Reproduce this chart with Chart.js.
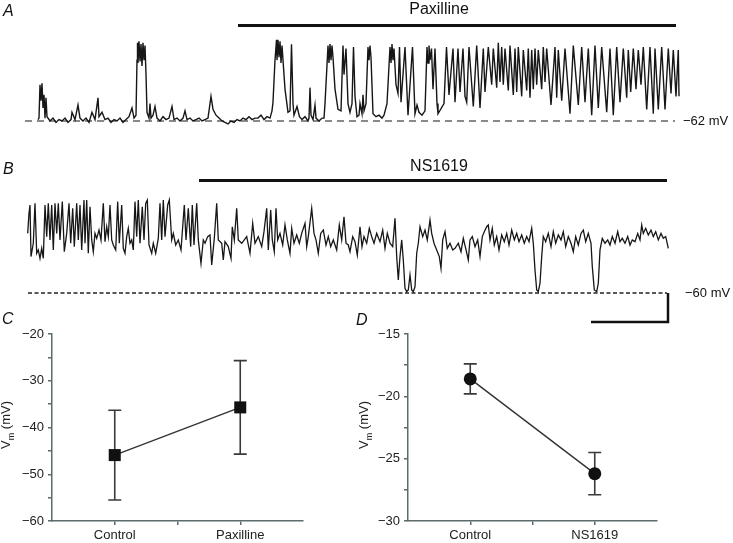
<!DOCTYPE html>
<html>
<head>
<meta charset="utf-8">
<script src="https://cdn.jsdelivr.net/npm/chart.js@4"></script>
<style>
body { margin: 0; background: #fff; width: 733px; height: 543px; overflow: hidden; position: relative; font-family: "Liberation Sans", Arial, sans-serif; }
canvas { position: absolute; }
.panel { position: absolute; font-style: italic; font-size: 16px; line-height: 16px; color: #111; }
.ytitle { position: absolute; font-size: 13px; white-space: nowrap; color: #222; transform: translate(-50%, -50%) rotate(-90deg); }
.ytitle sub { font-size: 9px; }
</style>
</head>
<body>
<canvas id="traceA" width="733" height="130" style="left:0;top:0"></canvas>
<canvas id="traceB" width="733" height="180" style="left:0;top:150px"></canvas>
<canvas id="chartC" width="340" height="228" style="left:0;top:315px"></canvas>
<canvas id="chartD" width="340" height="228" style="left:360px;top:315px"></canvas>
<div class="panel" style="left:3px;top:3px">A</div>
<div class="panel" style="left:3px;top:161px">B</div>
<div class="panel" style="left:2px;top:311px">C</div>
<div class="panel" style="left:356px;top:312px">D</div>
<div class="ytitle" style="left:7px;top:425px">V<sub>m</sub> (mV)</div>
<div class="ytitle" style="left:365px;top:425px">V<sub>m</sub> (mV)</div>
<script>
// membrane potential recordings: [time (s), Vm (mV)]
const traceA = [
  [13,-61],[14,-60],[15,-37],[16,-48],[17,-36],[18,-53],[19,-44],[20,-60],[21,-46],[22,-59],
  [25,-62],[28,-60],[31,-63],[34,-61],[37,-62],[40,-60],[43,-63],[46,-61],[47,-56],[50,-61],[53,-51],[55,-60],
  [58,-62],[61,-60],[64,-63],[67,-56],[70,-61],[73,-46],[74,-59],[77,-56],[80,-61],[83,-60],[86,-63],[89,-61],
  [92,-62],[95,-60],[98,-63],[101,-61],[104,-59],[107,-53],[109,-60],[111,-58],
  [112,-20],[112.5,-8],[113,-22],[114,-7],[115,-21],[116,-9],[117,-24],[118,-8],[119,-20],[120,-10],[121,-30],[122,-56],[124,-60],
  [125,-50],[126,-60],[128,-58],[130,-52],[132,-60],[135,-62],[138,-59],[141,-61],[144,-60],[147,-52],[149,-61],
  [152,-60],[155,-62],[158,-60],[160,-55],[162,-61],[165,-60],[168,-62],[171,-61],[174,-60],[177,-62],[180,-61],
  [183,-60],[186,-45],[188,-54],[191,-58],[194,-60],[197,-62],[200,-63],[203,-64],[206,-62],[209,-63],[212,-61],
  [215,-62],[218,-60],[221,-61],[224,-59],[227,-61],[230,-60],[233,-60],[236,-58],[239,-61],[242,-59],[245,-60],
  [247,-55],[248,-49],[250,-20],[251.5,-6],[252,-20],[253,-6],[254,-18],[255,-7],[256,-22],[257,-10],[258,-20],[260,-40],[263,-56],
  [265,-55],[266.5,-9],[268,-50],[269,-58],[272,-52],[274.5,-59],[277,-61],[280,-59],[283,-62],[284,-60],[285,-39],
  [286,-58],[288,-61],[290,-51],[291,-60],[294,-62],[297,-60],
  [299,-60],[300,-50],[303,-10],[304,-22],[305,-9],[306,-20],[307,-10],[308,-18],[310,-40],[313,-54],
  [316,-55],[318,-10],[319,-30],[321,-12],[323,-50],[325,-56],[327,-50],[328.5,-11],[330,-45],[332,-59],[334,-58],
  [335,-50],[337,-57],[338,-44],[339,-55],
  [341,-50],[343,-11],[344,-20],[345,-10],[346,-18],[348,-57],[351,-59],[354,-58],[357,-60],[359,-58],
  [362,-50],[365,-11],[366,-22],[367,-9],[368,-20],[369,-12],[371,-37],[373,-43],[374.5,-11],[376,-49],[380,-11],
  [383,-58],[387.5,-11],[390,-57],[392,-51],[394,-56],[397,-58],
  [400,-55],[402,-11],[403,-22],[404,-10],[405,-20],[406.5,-12],[408,-40],[410,-12],[412,-50],[413,-57],[419,-50],
  [421.5,-11],[424,-44],[428,-12],[430,-49],[433,-12],[435,-42],[438,-12],[440,-45],[441.7,-49],[444,-11],
  [448.3,-52],[451.7,-10],[455,-53],[458.3,-12],[460,-42],[463.3,-11],[466.7,-37],[468.3,-12],[471.7,-39],[473.3,-8],
  [475,-35],[476.7,-11],[478.3,-37],[480,-12],[483.3,-41],[485,-10],[488.3,-44],[490,-12],[491.7,-42],[493.3,-11],
  [496.7,-45],[498.3,-13],[501.7,-41],[503.3,-12],[505,-46],[506.7,-13],[508.3,-40],[510,-12],[511.7,-37],[513.3,-13],
  [516.7,-40],[518.3,-11],[520,-35],[521.7,-12],[526,-51],[530,-11],[531.7,-46],[533.3,-13],[536.7,-48],[540,-12],
  [545,-57],[548.3,-10],[553.3,-51],[556.7,-11],[560,-49],[563.3,-12],[566.7,-58],[570,-10],[573.3,-53],[576.7,-11],
  [581.7,-56],[585,-12],[588.3,-58],[591.7,-11],[595,-49],[598.3,-12],[601.7,-46],[603.3,-13],[605.7,-42],[608.3,-12],
  [611,-40],[613.3,-13],[616,-37],[618.3,-11],[621.7,-54],[625,-11],[628.3,-57],[630,-12],[633.3,-54],[636.7,-11],
  [640,-54],[643.3,-12],[646,-43],[648.3,-13],[651,-45],[653.3,-13],[654,-45]
];
const traceB = [
  [2.7,-18.9],[4,-5],[5,0.7],[6,-34.9],[8.3,-25.7],[10,1.8],[11.7,-32.6],[13.3,-30.3],[15,-36.1],[16.7,-29.2],
  [18.3,-36.1],[20,0.7],[21.7,-21.1],[23.3,1.8],[25,-23.4],[26.7,0.7],[28.3,-30.3],[30,1.8],[31.7,-18.9],[33.3,1.8],
  [35,-23.4],[37.3,3],[39.3,-31.5],[41.7,-18.9],[44,1.8],[45.7,-25.7],[47.7,-1.6],[49.3,-28],[51.7,1.8],[53.3,-23.4],
  [55,0.7],[56.7,-30.3],[59,4.1],[60,-25.7],[61.7,4.1],[63.3,-32.6],[65,-0.5],[66.7,-23.4],[68.3,-31.5],[70,-18.9],
  [71.7,-22.3],[74,-16.6],[76,-23.4],[78.3,1.8],[80,-24.6],[81.7,-14.3],[83.3,-21.1],[85,0.7],[86.7,-23.4],[88.3,-26.9],
  [90.7,-30.3],[92.7,3],[94.3,-25.7],[96.7,0.7],[98.3,-29.2],[100,-32.6],[101.7,-21.1],[103.3,-15.4],[105,-25.7],
  [106.7,-23.4],[108.3,-30.3],[110,3],[111.7,-21.1],[113.3,4.1],[115,-25.7],[117.3,-0.5],[119,-23.4],[120.7,1.8],
  [122.3,4.1],[124,-26.9],[126.7,-32.6],[128.3,-25.7],[130.7,-32.6],[133.3,-22.3],[135,1.8],[136.7,-23.4],[138.3,4.1],
  [140,-21.1],[142.7,0.7],[144.3,4.1],[146.7,-23.4],[148.3,-18.9],[150.7,-26.9],[153.3,-23.4],[156,-30.3],[159.3,0.7],
  [161,-23.4],[163.3,-1.6],[165.7,-28],[167.3,0.7],[169,-26.9],[171.7,1.8],[173.3,-23.4],[176,-39.5],[178.3,-23.4],
  [180,-25.7],[182.7,-21.1],[185,-20],[186.7,-40.7],[189.3,-22.3],[191.7,1.8],[193.3,-23.4],[196.7,-25.7],[198.3,-37.2],
  [200,-24.6],[203.3,-28],[206,-36.1],[207.3,-14.3],[209.3,-23.4],[211.7,-1.6],[213.3,-23.4],[216.7,-25.7],
  [221.7,-21.1],[225,-32.6],[227.7,-12],[230,-25.7],[233.3,-21.1],[236.7,-28],[239,-17.7],[241.7,-1.6],[243.3,-30.3],
  [245.7,-2.8],[247.3,-23.4],[249.3,-31.5],[251,-1.6],[252.7,-23.4],[255,-18.9],[257.7,-26.9],[260,-13.1],[262.3,-23.4],
  [265,-32.6],[266.7,-15.4],[269,-25.7],[271.7,-20],[274.3,-25.7],[276.7,-18.9],[280,-12],[281.7,-28],[283.3,-21.1],
  [286.7,-1.6],[289,-18.9],[291,-23.4],[293.3,-32.6],[295.7,-18.9],[298.3,-16.6],[301,-26.9],[303.3,-21.1],[305.7,-28],
  [308.3,-23.4],[311.7,-30.3],[314.3,-13.1],[316.7,-23.4],[319,-7.4],[321,-25.7],[323.3,-26.9],[325,-31.5],[327.7,-21.1],
  [330,-24.6],[332.3,-33.8],[335,-14.3],[337,-28],[339,-21.1],[341.7,-25.7],[344.3,-15.4],[346.7,-21.1],[349,-25.7],
  [351.7,-18.9],[355,-24.6],[357.7,-16.6],[360,-29.2],[362.3,-18.9],[365,-25.7],[367.7,-28],[370,-8.5],[371.7,-34.9],
  [373.3,-51],[375,-34.9],[376.7,-23.4],[378.3,-37.2],[380,-56.8],[381.7,-59.1],[383.3,-57.9],[385,-47.6],[386.7,-57.9],
  [388.3,-59.1],[390,-55.6],[391.7,-32.6],[393.3,-25.7],[395,-14.3],[397.7,-21.1],[400,-16.6],[402.3,-23.4],[405,-9.7],
  [406.7,-18.9],[409,-25.7],[411.7,-30.3],[414.3,-34.9],[416,-43],[417.7,-23.4],[420,-17.7],[422.3,-29.2],[425,-25.7],
  [427.7,-30.3],[430,-29.2],[433.3,-25.7],[436,-31.5],[438.3,-22.3],[440.7,-29.2],[443.3,-37.2],[445,-23.4],[447.3,-21.1],
  [450,-28],[452.7,-23.4],[455,-34.9],[457.3,-21.1],[459.3,-17.7],[461.7,-14.3],[463.3,-13.1],[465,-23.4],[467.3,-15.4],
  [469.3,-26.9],[471.7,-21.1],[474,-30.3],[476.7,-20],[479.3,-24.6],[481.7,-18.9],[484,-26.9],[486.7,-16.6],[489.3,-23.4],
  [491.7,-18.9],[494,-24.6],[496.7,-20],[499.3,-25.7],[501.7,-21.1],[504,-24.6],[506.7,-15.4],[508.3,-25.7],[510,-44.1],
  [511.7,-57.9],[513.3,-59.1],[515,-53.3],[516.7,-34.9],[518.3,-21.1],[520.7,-24.6],[523.3,-18.9],[526,-28],[528.3,-17.7],
  [530.7,-25.7],[533.3,-20],[536,-23.4],[538.3,-17.7],[540.7,-28],[543.3,-21.1],[546,-25.7],[548.3,-31.5],[550.7,-21.1],
  [553.3,-26.9],[556,-18.9],[558.3,-16.6],[560.7,-24.6],[563.3,-18.9],[566,-25.7],[567.3,-41.8],[569.3,-57.9],[571.7,-59.1],
  [573.3,-53.3],[575,-30.3],[577.3,-22.3],[580,-25.7],[582.7,-23.4],[585,-26.9],[587.3,-21.1],[590,-25.7],[592.7,-17.7],
  [595,-24.6],[597.3,-22.3],[600,-25.7],[602.7,-21.1],[605,-26.9],[607.3,-23.4],[610,-24.6],[612.7,-18.9],[615,-23.4],
  [616.7,-13.1],[618.3,-18.9],[620.7,-15.4],[623.3,-20],[626,-16.6],[628.3,-21.1],[630.7,-17.7],[633.3,-23.4],[636,-18.9],
  [638.3,-22.3],[640.7,-21.1],[643.3,-29.2]
];
const restingA = -62;
const restingB = -60;
const restSpanA = [0, 650];
const restSpanB = [3, 642];
const paxillineOn = [213, 651];
const ns1619On = [174, 642];
const scaleBarTime = 77;
const scaleBarMv = 20;

// summary panels
const groupsC = ["Control", "Paxilline"];
const meanC = [-45.9, -35.7];
const semC = [9.6, 10.0];
const groupsD = ["Control", "NS1619"];
const meanD = [-18.6, -26.2];
const semD = [1.2, 1.7];

const FONT = "Liberation Sans, Arial, sans-serif";
const PX_PER_MV = 1.45;
const minus = v => String(v).replace("-", "\u2212");

const traceDecor = {
    id: "traceDecor",
    afterDatasetsDraw(chart, args, o) {
        const { ctx, scales: { x, y } } = chart;
        ctx.save();
        ctx.strokeStyle = "#111";
        ctx.fillStyle = "#111";
        ctx.lineWidth = 3;
        ctx.beginPath();
        ctx.moveTo(x.getPixelForValue(o.drug[0]), o.barY);
        ctx.lineTo(x.getPixelForValue(o.drug[1]), o.barY);
        ctx.stroke();
        ctx.font = `16px ${FONT}`;
        ctx.textAlign = "center";
        ctx.textBaseline = "middle";
        ctx.fillText(o.name, x.getPixelForValue(o.nameT), o.nameY);
        ctx.font = `13px ${FONT}`;
        ctx.textAlign = "left";
        ctx.fillText(minus(o.rest) + " mV", o.restLabelX, y.getPixelForValue(o.rest));
        if (o.scaleBar) {
            const xr = x.getPixelForValue(o.restEnd) + 1;
            const xl = x.getPixelForValue(o.restEnd - scaleBarTime) + 1;
            const yb = y.getPixelForValue(o.rest - scaleBarMv);
            ctx.lineWidth = 2.5;
            ctx.beginPath();
            ctx.moveTo(xr, y.getPixelForValue(o.rest));
            ctx.lineTo(xr, yb);
            ctx.lineTo(xl, yb);
            ctx.stroke();
        }
        ctx.restore();
    }
};

function traceChart(id, pts, rest, span, restTop, height, lineW, restStyle, decor) {
    const yMax = rest + restTop / PX_PER_MV;
    const yMin = rest - (height - restTop) / PX_PER_MV;
    return new Chart(document.getElementById(id), {
        type: "line",
        data: {
            datasets: [{
                data: pts.map(p => ({ x: p[0], y: p[1] })),
                borderColor: "#161616",
                borderWidth: lineW,
                pointRadius: 0,
                tension: 0,
                clip: false
            }, {
                data: span.map(t => ({ x: t, y: rest })),
                borderColor: restStyle.color,
                borderWidth: restStyle.width,
                borderDash: restStyle.dash,
                pointRadius: 0,
                clip: false
            }]
        },
        options: {
            responsive: false,
            animation: false,
            events: [],
            devicePixelRatio: 1,
            layout: { padding: 0, autoPadding: false },
            scales: {
                x: { type: "linear", min: -25, max: 708, display: false },
                y: { min: yMin, max: yMax, display: false }
            },
            plugins: { legend: { display: false }, tooltip: { enabled: false }, traceDecor: decor }
        },
        plugins: [traceDecor]
    });
}

traceChart("traceA", traceA, restingA, restSpanA, 121, 130, 1.4,
    { color: "#8a8a8a", width: 2, dash: [7, 5] },
    { drug: paxillineOn, barY: 25.5, name: "Paxilline", nameT: 414, nameY: 10, rest: restingA, restLabelX: 683 });
traceChart("traceB", traceB, restingB, restSpanB, 143, 180, 1.3,
    { color: "#222", width: 1.5, dash: [4, 2.5] },
    { drug: ns1619On, barY: 30.5, name: "NS1619", nameT: 414, nameY: 17, rest: restingB, restLabelX: 685,
      scaleBar: true, restEnd: restSpanB[1] });

const errorBars = {
    id: "errorBars",
    beforeDatasetsDraw(chart, args, o) {
        const { ctx, scales: { x, y } } = chart;
        ctx.save();
        ctx.strokeStyle = "#3a3a3a";
        ctx.lineWidth = 1.6;
        o.means.forEach((m, i) => {
            const px = x.getPixelForValue(i + 1);
            const top = y.getPixelForValue(m + o.sems[i]);
            const bot = y.getPixelForValue(m - o.sems[i]);
            ctx.beginPath();
            ctx.moveTo(px, top); ctx.lineTo(px, bot);
            ctx.moveTo(px - 6.5, top); ctx.lineTo(px + 6.5, top);
            ctx.moveTo(px - 6.5, bot); ctx.lineTo(px + 6.5, bot);
            ctx.stroke();
        });
        ctx.restore();
    }
};

const axisColor = "#5c6b6b";

function meanChart(id, groups, means, sems, yMin, yMax, step, labelStep, axisW, padRight, style, radius) {
    return new Chart(document.getElementById(id), {
        type: "line",
        data: {
            datasets: [{
                data: means.map((m, i) => ({ x: i + 1, y: m })),
                borderColor: "#333",
                borderWidth: 1.4,
                pointStyle: style,
                pointRadius: radius,
                pointBackgroundColor: "#111",
                pointBorderWidth: 0,
                tension: 0
            }]
        },
        options: {
            responsive: false,
            animation: false,
            events: [],
            devicePixelRatio: 1,
            layout: { padding: { top: 19, right: padRight, left: 0, bottom: 0 }, autoPadding: false },
            scales: {
                x: {
                    type: "linear", min: 0.5, max: 2.5,
                    afterBuildTicks: s => { s.ticks = [1, 1.5, 2].map(v => ({ value: v })); },
                    afterFit: s => { s.height = 22; },
                    grid: { drawOnChartArea: false, color: axisColor, tickLength: 4, lineWidth: 1.5 },
                    border: { color: axisColor, width: 1.5 },
                    ticks: {
                        color: "#222", padding: 3, maxRotation: 0, autoSkip: false,
                        font: { size: 13, family: FONT },
                        callback: v => Number.isInteger(v) ? groups[v - 1] : ""
                    }
                },
                y: {
                    min: yMin, max: yMax,
                    afterFit: s => { s.width = axisW; },
                    grid: { drawOnChartArea: false, color: axisColor, tickLength: 4, lineWidth: 1.5 },
                    border: { color: axisColor, width: 1.5 },
                    ticks: {
                        stepSize: step, color: "#222", padding: 4,
                        font: { size: 13, family: FONT },
                        callback: v => Math.abs(v % labelStep) < 1e-6 ? minus(v) : ""
                    }
                }
            },
            plugins: { legend: { display: false }, tooltip: { enabled: false }, errorBars: { means, sems } }
        },
        plugins: [errorBars]
    });
}

meanChart("chartC", groupsC, meanC, semC, -60, -20, 5, 10, 52, 37, "rect", 8.5);
meanChart("chartD", groupsD, meanD, semD, -30, -15, 2.5, 5, 48, 43, "circle", 6.5);
</script>
</body>
</html>
